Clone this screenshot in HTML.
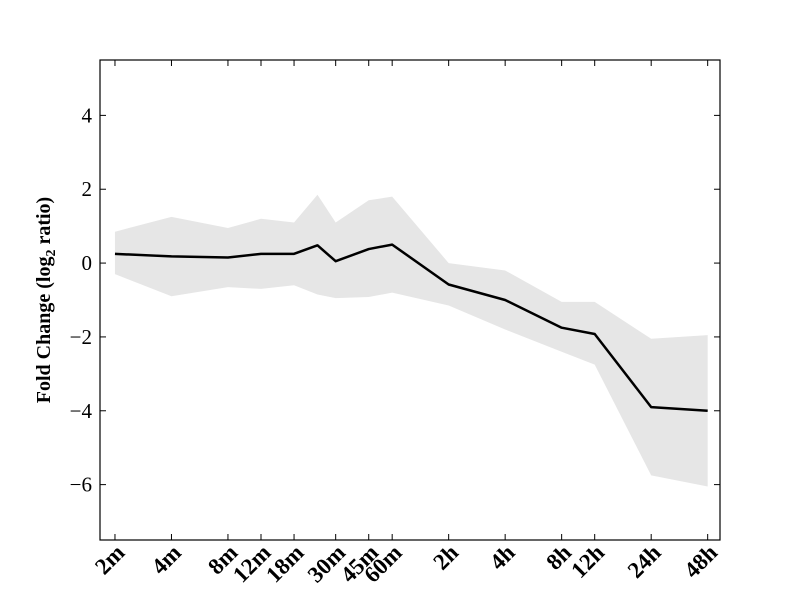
<!DOCTYPE html>
<html><head><meta charset="utf-8"><style>
body{margin:0;background:#fff;}
svg{display:block;font-family:"Liberation Serif",serif;}
</style></head><body>
<svg id="chart" width="800" height="600"></svg>
<script>
const minutes=[2,4,8,12,18,24,30,45,60,120,240,480,720,1440,2880];
const meanVals=[0.25,0.18,0.15,0.25,0.25,0.48,0.05,0.38,0.5,-0.58,-1.0,-1.75,-1.92,-3.9,-4.0];
const upperVals=[0.85,1.25,0.95,1.2,1.1,1.85,1.1,1.7,1.8,0.0,-0.2,-1.05,-1.05,-2.05,-1.95];
const lowerVals=[-0.3,-0.9,-0.65,-0.7,-0.6,-0.85,-0.95,-0.92,-0.8,-1.15,-1.8,-2.4,-2.75,-5.75,-6.05];
const xTickMinutes=[2,4,8,12,18,30,45,60,120,240,480,720,1440,2880];
const xTickLabels=["2m","4m","8m","12m","18m","30m","45m","60m","2h","4h","8h","12h","24h","48h"];
const yTicks=[-6,-4,-2,0,2,4];

const L=100,R=720,T=60,B=540;
const xMin=0.735,xMax=11.71,yMin=-7.5,yMax=5.5;
const xs=m=>L+(Math.log2(m)-xMin)/(xMax-xMin)*(R-L);
const ys=v=>B-(v-yMin)/(yMax-yMin)*(B-T);
const svg=document.getElementById('chart');
const NS="http://www.w3.org/2000/svg";
function mk(tag,attrs,parent){const e=document.createElementNS(NS,tag);for(const k in attrs)e.setAttribute(k,attrs[k]);(parent||svg).appendChild(e);return e;}

let band=minutes.map((m,i)=>xs(m)+','+ys(upperVals[i]));
for(let i=minutes.length-1;i>=0;i--)band.push(xs(minutes[i])+','+ys(lowerVals[i]));
const poly=mk('polygon',{points:band.join(' '),fill:'#e6e6e6',stroke:'none'});



const line=mk('polyline',{points:minutes.map((m,i)=>xs(m)+','+ys(meanVals[i])).join(' '),fill:'none',stroke:'#000','stroke-width':2.5,'stroke-linejoin':'round'});



const frame=mk('rect',{x:L,y:T,width:R-L,height:B-T,fill:'none',stroke:'#000','stroke-width':1.2});



yTicks.forEach(v=>{
  const y=ys(v);
  mk('line',{x1:L,x2:L+6,y1:y,y2:y,stroke:'#000'});
  mk('line',{x1:R,x2:R-6,y1:y,y2:y,stroke:'#000'});
  const t=mk('text',{x:L-8,y:y+7,'text-anchor':'end','font-size':21});
  t.textContent=(v<0?'\u2212'+(-v):String(v));
  
  
});
xTickMinutes.forEach((m,i)=>{
  const x=xs(m);
  mk('line',{x1:x,x2:x,y1:B,y2:B-6,stroke:'#000'});
  mk('line',{x1:x,x2:x,y1:T,y2:T+6,stroke:'#000'});
  const ax=x+11,ay=B+14;
  const t=mk('text',{x:ax,y:ay,'text-anchor':'end','font-size':23,'font-weight':'bold',transform:`rotate(-45 ${ax} ${ay})`});
  t.textContent=xTickLabels[i];
  
  
});
const yt=mk('text',{x:0,y:0,'text-anchor':'middle','font-size':20,'font-weight':'bold',transform:`translate(50 ${(T+B)/2}) rotate(-90)`});
yt.innerHTML='Fold Change (log<tspan font-size="14" dy="5">2</tspan><tspan dy="-5"> ratio)</tspan>';


</script>
</body></html>
